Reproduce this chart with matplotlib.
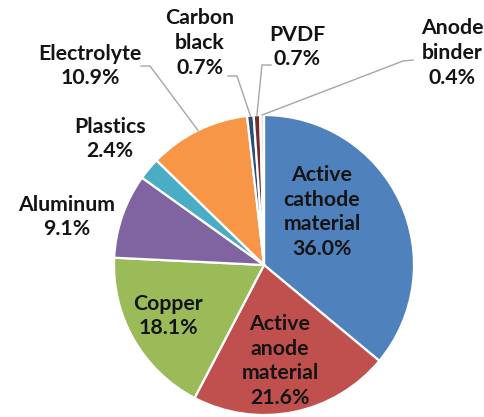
import numpy as np
import matplotlib
matplotlib.use("Agg")
import matplotlib.pyplot as plt

# Mass share of battery components (%)
components = ["Active cathode material", "Active anode material", "Copper",
              "Aluminum", "Plastics", "Electrolyte", "Carbon black",
              "PVDF", "Anode binder"]
shares = [36.0, 21.6, 18.1, 9.1, 2.4, 10.9, 0.7, 0.7, 0.4]
label_text = ["Active\ncathode\nmaterial", "Active\nanode\nmaterial", "Copper",
              "Aluminum", "Plastics", "Electrolyte", "Carbon\nblack",
              "PVDF", "Anode\nbinder"]
colors = ["#4F81BD", "#C0504D", "#9BBB59", "#8064A2", "#4BACC6",
          "#F79646", "#2C4D75", "#772C2A", "#E2E4E8"]

W, H = 485, 417
fig = plt.figure(figsize=(W / 100, H / 100), dpi=100)
ax = fig.add_axes([0, 0, 1, 1])
ax.set_xlim(0, W)
ax.set_ylim(0, H)
ax.set_aspect("equal")
ax.axis("off")


def fy(y):
    # pixel row (top-down) -> axis y
    return H - y


cx, cy, r = 264, fy(265), 150
wedges, _ = ax.pie(shares, colors=colors, startangle=90, counterclock=False,
                   center=(cx, cy), radius=r,
                   wedgeprops=dict(edgecolor="white", linewidth=1.6))
ax.set_xlim(0, W)
ax.set_ylim(0, H)

font = dict(family=["Lato", "DejaVu Sans"], fontweight="bold", fontsize=15.3,
            color="#141414", ha="center", va="center", linespacing=1.3)

# label centres in pixel coordinates
label_pos = {
    "Active cathode material": (322, 212),
    "Active anode material": (280, 361),
    "Copper": (168, 316),
    "Aluminum": (67, 217),
    "Plastics": (110, 139),
    "Electrolyte": (90, 66),
    "Carbon black": (200, 43),
    "PVDF": (297, 47),
    "Anode binder": (452, 53),
}
# leader lines: start point and elbow (pixels); end sits on the wedge rim
leaders = {
    "Electrolyte": [(141, 66), (150, 66)],
    "Carbon black": [(228, 76), (237, 76)],
    "PVDF": [(271, 65), (262, 65)],
    "Anode binder": [(413, 60), (403, 61)],
}

for name, txt, val, w in zip(components, label_text, shares, wedges):
    x, y = label_pos[name]
    ax.text(x, fy(y), f"{txt}\n{val:.1f}%", **font)
    if name in leaders:
        mid = np.deg2rad((w.theta1 + w.theta2) / 2)
        ex, ey = cx + r * np.cos(mid), cy + r * np.sin(mid)
        pts = leaders[name]
        xs = [p[0] for p in pts] + [ex]
        ys = [fy(p[1]) for p in pts] + [ey]
        ax.plot(xs, ys, color="#A6A6A6", linewidth=1.0, zorder=5)

fig.savefig("out.png", dpi=100)
